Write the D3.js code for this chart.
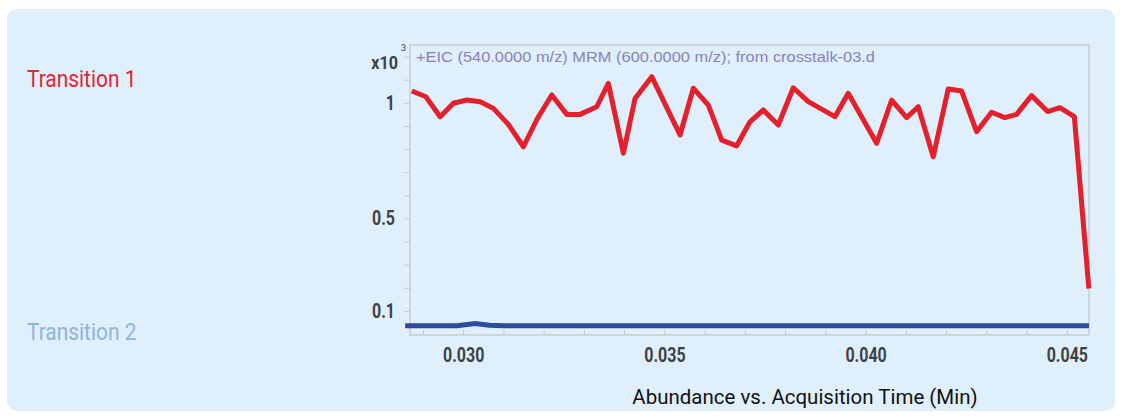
<!DOCTYPE html>
<html>
<head>
<meta charset="utf-8">
<script src="https://cdn.jsdelivr.net/npm/d3@7"></script>
<style>
  html, body { margin: 0; padding: 0; background: #fff; }
  svg { display: block; }
</style>
</head>
<body>
<div class="display__svg"></div>
<script>
// acquisition time (min) of each sample on transition 1
const t1Time = [
  0.028726, 0.029074, 0.029429, 0.029759, 0.030092, 0.030422, 0.030752, 0.031118,
  0.031498, 0.031838, 0.032203, 0.032575, 0.032906, 0.033320, 0.033608, 0.033981,
  0.034271, 0.034686, 0.035389, 0.035719, 0.036092, 0.036425, 0.036797, 0.037127,
  0.037458, 0.037830, 0.038203, 0.038575, 0.039238, 0.039569, 0.040274, 0.040647,
  0.041019, 0.041307, 0.041680, 0.042052, 0.042385, 0.042757, 0.043130, 0.043460,
  0.043751, 0.044123, 0.044521, 0.044826, 0.045186, 0.045546
];
// abundance (x10^3)
const t1Abund = [
  1.051, 1.026, 0.940, 0.998, 1.012, 1.005, 0.976, 0.908,
  0.810, 0.930, 1.034, 0.950, 0.950, 0.983, 1.084, 0.782,
  1.019, 1.113, 0.861, 1.063, 0.990, 0.839, 0.814, 0.918,
  0.969, 0.904, 1.065, 1.005, 0.940, 1.041, 0.825, 1.012,
  0.936, 0.983, 0.767, 1.060, 1.051, 0.875, 0.959, 0.936,
  0.950, 1.031, 0.962, 0.979, 0.940, 0.197
];

// transition 2 stays near the baseline
const t2Time = [0.02856, 0.02985, 0.03030, 0.03065, 0.03100, 0.04555];
const t2Abund = [0.036, 0.036, 0.046, 0.038, 0.036, 0.036];

const xTickValues = [0.030, 0.035, 0.040, 0.045];
const yTickValues = [1, 0.5, 0.1];

const titleText = "+EIC (540.0000 m/z) MRM (600.0000 m/z); from crosstalk-03.d";
const seriesNames = ["Transition 1", "Transition 2"];
const xAxisTitle = "Abundance vs. Acquisition Time (Min)";

const width = 1121, height = 419;
const plot = { left: 410, right: 1089, top: 45, bottom: 335 };
const font = "'Roboto', 'Liberation Sans', sans-serif";

//squeeze text horizontally to mimic the condensed face
function squeeze(sel, factor) {
  sel.each(function() {
    const w = this.getComputedTextLength();
    d3.select(this)
      .attr("textLength", w * factor)
      .attr("lengthAdjust", "spacingAndGlyphs");
  });
}

const svg = d3.select(".display__svg")
  .append("svg")
  .attr("width", width)
  .attr("height", height);

//light blue panel behind everything
svg.append("rect")
  .attr("x", 7).attr("y", 9)
  .attr("width", 1108).attr("height", 402)
  .attr("rx", 10)
  .attr("fill", "#dfeffc");

const xScale = d3.scaleLinear()
  .domain([0.02868, 0.04555])
  .range([plot.left, plot.right]);

const yScale = d3.scaleLinear()
  .domain([-0.004, 1.25])
  .range([plot.bottom, plot.top]);

//plot frame
svg.append("rect")
  .attr("x", plot.left).attr("y", plot.top)
  .attr("width", plot.right - plot.left)
  .attr("height", plot.bottom - plot.top)
  .attr("fill", "none")
  .attr("stroke", "#c9cdd0")
  .attr("stroke-width", 1.5);

//minor ticks on y
const yMinor = d3.axisLeft(yScale)
  .tickValues(d3.range(1, 13).map(d => d / 10))
  .tickSize(6)
  .tickFormat("");
const yMinorG = svg.append("g")
  .attr("transform", `translate(${plot.left},0)`)
  .call(yMinor);
yMinorG.select(".domain").remove();
yMinorG.selectAll("line").attr("stroke", "#c3c7ca");

//y labels
const yaxis = d3.axisLeft(yScale)
  .tickValues(yTickValues)
  .tickSize(0)
  .tickPadding(15)
  .tickFormat(d => d);
const yaxisgroup = svg.append("g")
  .attr("transform", `translate(${plot.left},0)`)
  .call(yaxis);
yaxisgroup.select(".domain").remove();
yaxisgroup.selectAll("text")
  .attr("fill", "#3d4245")
  .style("font-family", font)
  .style("font-weight", "bold")
  .style("font-size", "20px")
  .call(squeeze, 0.8);

//x10^3 multiplier
svg.append("text")
  .attr("x", 398).attr("y", 69)
  .attr("text-anchor", "end")
  .attr("fill", "#3d4245")
  .style("font-family", font)
  .style("font-weight", "bold")
  .style("font-size", "19px")
  .text("x10")
  .call(squeeze, 0.85);
svg.append("text")
  .attr("x", 401).attr("y", 51)
  .attr("fill", "#3d4245")
  .style("font-family", font)
  .style("font-size", "9px")
  .text("3");

//minor ticks on x, drawn inward
const xMinor = d3.axisBottom(xScale)
  .tickValues(d3.range(29, 46).map(d => d / 1000))
  .tickSize(-5)
  .tickFormat("");
const xMinorG = svg.append("g")
  .attr("transform", `translate(0,${plot.bottom})`)
  .call(xMinor);
xMinorG.select(".domain").remove();
xMinorG.selectAll("line").attr("stroke", "#c3c7ca");

//x labels
const xaxis = d3.axisBottom(xScale)
  .tickValues(xTickValues)
  .tickSize(0)
  .tickPadding(13)
  .tickFormat(d3.format(".3f"));
const xaxisgroup = svg.append("g")
  .attr("transform", `translate(0,${plot.bottom})`)
  .call(xaxis);
xaxisgroup.select(".domain").remove();
xaxisgroup.selectAll("text")
  .attr("fill", "#3d4245")
  .style("font-family", font)
  .style("font-weight", "bold")
  .style("font-size", "20px")
  .call(squeeze, 0.8);

//chromatogram title inside the frame
svg.append("text")
  .attr("x", 416).attr("y", 62)
  .attr("fill", "#8b80bd")
  .style("font-family", "'Liberation Sans', Arial, sans-serif")
  .style("font-size", "14.5px")
  .text(titleText)
  .attr("textLength", 459)
  .attr("lengthAdjust", "spacingAndGlyphs");

const line = d3.line()
  .x(d => xScale(d[0]))
  .y(d => yScale(d[1]));

//transition 2 (blue)
svg.append("path")
  .datum(d3.zip(t2Time, t2Abund))
  .attr("fill", "none")
  .attr("stroke", "#2e4c9f")
  .attr("stroke-width", 5)
  .attr("d", line);

//transition 1 (red)
svg.append("path")
  .datum(d3.zip(t1Time, t1Abund))
  .attr("fill", "none")
  .attr("stroke", "#e3202b")
  .attr("stroke-width", 5)
  .attr("stroke-linejoin", "round")
  .attr("d", line);

//series labels at the left
svg.selectAll(".series-label")
  .data(seriesNames)
  .enter()
  .append("text")
  .attr("class", "series-label")
  .attr("x", 27)
  .attr("y", (d, i) => i === 0 ? 87 : 340)
  .attr("fill", (d, i) => i === 0 ? "#e32632" : "#8fb3de")
  .style("font-family", font)
  .style("font-size", "24px")
  .text(d => d)
  .call(squeeze, 0.87);

//axis title
svg.append("text")
  .attr("x", 805).attr("y", 404)
  .attr("text-anchor", "middle")
  .attr("fill", "#111")
  .style("font-family", font)
  .style("font-size", "21px")
  .text(xAxisTitle)
  .call(squeeze, 0.975);
</script>
</body>
</html>
